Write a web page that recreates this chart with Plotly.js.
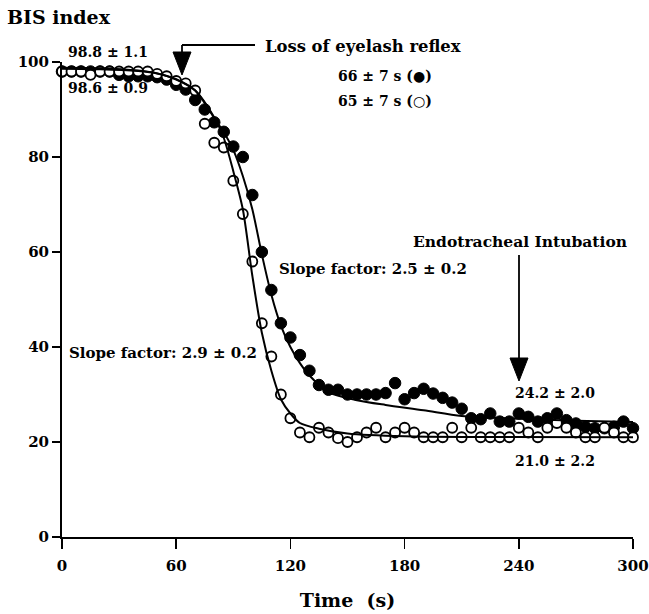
<!DOCTYPE html>
<html>
<head>
<meta charset="utf-8">
<script src="https://cdn.plot.ly/plotly-3.0.1.min.js"></script>
<style>html,body{margin:0;padding:0;background:#fff;}#chart{width:649px;height:614px;}</style>
</head>
<body>
<div id="chart"></div>
<script>
// Time (s)
var timeS = [0,5,10,15,20,25,30,35,40,45,50,55,60,65,70,75,80,85,90,95,100,105,110,115,120,125,130,135,140,145,150,155,160,165,170,175,180,185,190,195,200,205,210,215,220,225,230,235,240,245,250,255,260,265,270,275,280,285,290,295,300];
// BIS index, filled circles
var bisFilled = [98,98,98,98,98,98,97.3,97,97,97,96.8,96.3,95.2,94.2,92,90,87.3,85.3,82.2,80,72,60,52,45,42,38.3,35,32,31,31,30,30,30,30,30.3,32.4,29,30.3,31.2,30.2,29.3,28.3,27,25,24.8,26,24.3,24.3,26,25.3,24.3,25,26,24.6,23.9,23.2,22.9,22.9,23.2,24.3,22.9];
// BIS index, open circles
var bisOpen = [98,98,98,97.3,98,98,98,98,98,98,97.5,97,96,95.5,94,87,83,82,75,68,58,45,38,30,25,22,21,23,22,20.8,20,21,22,23,21,22,23,22,21,21,21,23,21,23,21,21,21,21,23,22,21,23,24,23,22,21,21,23,22,21,21];
// fitted curves
var fitFilledT = [0,20,40,50,60,70,80,85,90,95,100,105,110,115,120,125,130,140,155,170,190,210,240,270,300];
var fitFilledV = [98.8,98.7,98.2,97.6,96.3,94,88.2,85.2,81.5,76,69,59.5,51,44.5,40,36.6,34,30.5,28.8,27.8,26.7,25.5,24.9,24.5,24.2];
var fitOpenT = [0,20,40,50,60,70,80,85,90,95,100,105,110,115,120,125,135,150,180,220,300];
var fitOpenV = [98.6,98.5,98.1,97.6,96.4,94,88.3,84,77,69,55,43,35,29,26,24,22.8,21.8,21.2,21.05,21];

var xTicks = [0,60,120,180,240,300];
var yTicks = [0,20,40,60,80,100];

var FONT = "DejaVu Serif";
function px2x(p){return (p-62)/571;}
function py2y(p){return (537-p)/475;}

var traces = [
  {x: timeS, y: bisFilled, mode:'markers', type:'scatter', cliponaxis:false,
   marker:{symbol:'circle', size:11.5, color:'#000', line:{color:'#000', width:1}}},
  {x: timeS, y: bisOpen, mode:'markers', type:'scatter', cliponaxis:false,
   marker:{symbol:'circle', size:10, color:'#fff', line:{color:'#000', width:1.8}}},
  {x: fitFilledT, y: fitFilledV, mode:'lines', type:'scatter', cliponaxis:false,
   line:{color:'#000', width:2, shape:'spline', smoothing:0.8}},
  {x: fitOpenT, y: fitOpenV, mode:'lines', type:'scatter', cliponaxis:false,
   line:{color:'#000', width:2, shape:'spline', smoothing:0.8}}
];

function ann(text, pxL, pyC, size){
  return {text:text, xref:'paper', yref:'paper', x:px2x(pxL), y:py2y(pyC), xanchor:'left', yanchor:'middle',
          showarrow:false, font:{family:FONT, size:size, color:'#000', weight:'bold'}};
}

var layout = {
  width:649, height:614,
  margin:{l:62, r:16, t:62, b:77},
  paper_bgcolor:'#fff', plot_bgcolor:'#fff',
  showlegend:false,
  font:{family:FONT, color:'#000', weight:'bold'},
  xaxis:{range:[0,300], tickvals:xTicks, ticktext:xTicks.map(String), showgrid:false, zeroline:false,
         showline:true, linecolor:'#000', linewidth:2, ticks:'outside', ticklen:10, tickwidth:1.5, tickcolor:'#000',
         ticklabelstandoff:4,
         tickfont:{family:FONT, size:15, color:'#000', weight:'bold'},
         title:{text:'Time  (s)', font:{family:FONT, size:19, color:'#000', weight:'bold'}, standoff:20}},
  yaxis:{range:[0,100], tickvals:yTicks, ticktext:yTicks.map(String), showgrid:false, zeroline:false,
         showline:true, linecolor:'#000', linewidth:2, ticks:'outside', ticklen:8, tickwidth:1.5, tickcolor:'#000',
         tickfont:{family:FONT, size:15, color:'#000', weight:'bold'}},
  annotations:[
    ann('BIS index', 5, 17, 19),
    ann('98.8 ± 1.1', 66, 52, 14),
    ann('98.6 ± 0.9', 66, 88, 14),
    ann('Loss of eyelash reflex', 263, 47, 16.4),
    ann('66 ± 7 s (●)', 336, 76, 14),
    ann('65 ± 7 s (○)', 336, 101, 14),
    ann('Slope factor: 2.5 ± 0.2', 277, 269, 15),
    ann('Slope factor: 2.9 ± 0.2', 67, 353, 15),
    ann('Endotracheal Intubation', 411, 241, 15.5),
    ann('24.2 ± 2.0', 513, 393, 14),
    ann('21.0 ± 2.2', 513, 461, 14)
  ],
  shapes:[
    {type:'path', xref:'paper', yref:'paper',
     path:'M '+px2x(182)+' '+py2y(45)+' L '+px2x(255)+' '+py2y(45)+' M '+px2x(182)+' '+py2y(45)+' L '+px2x(182)+' '+py2y(56),
     line:{color:'#000', width:1.8}},
    {type:'path', xref:'paper', yref:'paper',
     path:'M '+px2x(173)+' '+py2y(52)+' L '+px2x(191)+' '+py2y(52)+' L '+px2x(182)+' '+py2y(75)+' Z',
     fillcolor:'#000', line:{color:'#000', width:1}},
    {type:'path', xref:'paper', yref:'paper',
     path:'M '+px2x(519)+' '+py2y(255)+' L '+px2x(519)+' '+py2y(360),
     line:{color:'#000', width:1.8}},
    {type:'path', xref:'paper', yref:'paper',
     path:'M '+px2x(510)+' '+py2y(358)+' L '+px2x(528)+' '+py2y(358)+' L '+px2x(519)+' '+py2y(381)+' Z',
     fillcolor:'#000', line:{color:'#000', width:1}}
  ]
};

Plotly.newPlot('chart', traces, layout, {displayModeBar:false, staticPlot:true});
</script>
</body>
</html>
